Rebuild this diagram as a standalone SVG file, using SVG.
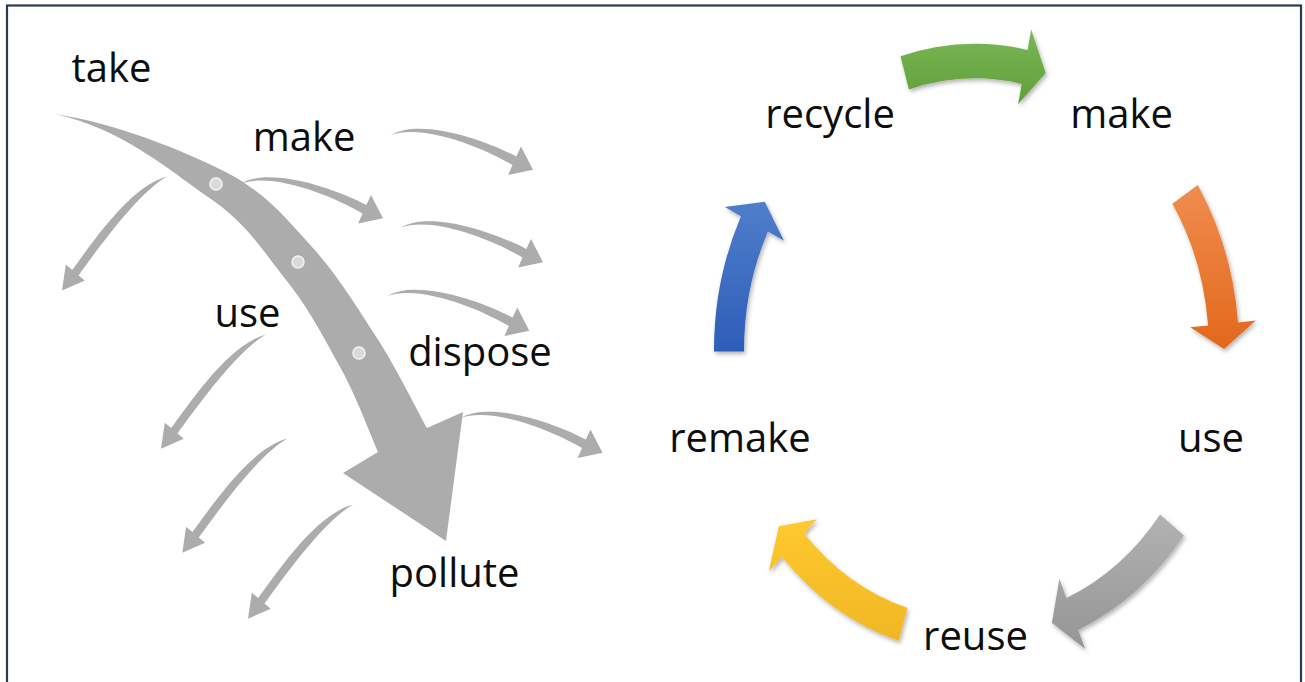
<svg xmlns="http://www.w3.org/2000/svg" xmlns:xlink="http://www.w3.org/1999/xlink" width="1305" height="682" viewBox="0 0 1305 682">
<style>
  .lbl { font-family: "Open Sans", "Liberation Sans", sans-serif; font-size: 40px; fill: #0d0d0d; text-anchor: middle; }
  .g { fill: #acacac; }
  .dot { fill: #dadada; stroke: #f4f4f4; stroke-width: 1.5; }
  .cyc { filter: url(#shadow); }
</style>
<defs>
  <path id="rarrow" d="M0,0 C30,-18 95,5 125.8,21.2 L130.5,11.2 L142.5,34.5 L117.6,39.8 L122,29.8 C93,12.5 32,-12 0,0 Z"/>
  <path id="larrow" d="M0,0 C-38,10 -76.8,69.7 -94.8,93.5 L-101.2,88.2 L-105,114.2 L-82.2,104.2 L-88.5,99 C-70.7,74.8 -30,17 0,0 Z"/>
  <linearGradient id="gGreen" x1="0" y1="0" x2="0" y2="1"><stop offset="0" stop-color="#7bb757"/><stop offset="1" stop-color="#5f9f39"/></linearGradient>
  <linearGradient id="gOrange" x1="0" y1="0" x2="0" y2="1"><stop offset="0" stop-color="#f08c4e"/><stop offset="1" stop-color="#e2681c"/></linearGradient>
  <linearGradient id="gGray" x1="0" y1="0" x2="0" y2="1"><stop offset="0" stop-color="#b2b2b2"/><stop offset="1" stop-color="#959595"/></linearGradient>
  <linearGradient id="gYellow" x1="0" y1="0" x2="0" y2="1"><stop offset="0" stop-color="#ffc92e"/><stop offset="1" stop-color="#efb726"/></linearGradient>
  <linearGradient id="gBlue" x1="0" y1="0" x2="0" y2="1"><stop offset="0" stop-color="#4f7ecb"/><stop offset="1" stop-color="#2d5db8"/></linearGradient>
  <filter id="shadow" x="-20%" y="-20%" width="140%" height="140%">
    <feDropShadow dx="1.5" dy="2.5" stdDeviation="2" flood-color="#000" flood-opacity="0.3"/>
  </filter>
</defs>
<rect x="0" y="0" width="1305" height="682" fill="#ffffff"/>
<rect id="frame" x="7" y="5.5" width="1294" height="700" fill="none" stroke="#2b3a4f" stroke-width="2.2"/>

<g id="connectors">
  <g id="linear-flow">
    <path id="big-arrow" class="g" d="M55,114 C115,123 182,150 225.6,171.9 C268,194 287.5,220.5 313.6,248.8 C339.5,277.5 360,312.5 379.9,342.4 C398.5,372.5 419,413.8 427,428 L463,412 L446,541 L343,473 L378,452 C371.5,437.2 355,392.8 338.1,363.6 C322,333.8 305,302.5 282.4,275.2 C260,247 245,221.5 206.4,196.1 C168.5,169 120,128 55,114 Z"/>
    <circle class="dot" cx="216" cy="184" r="6"/>
    <circle class="dot" cx="298" cy="262" r="6"/>
    <circle class="dot" cx="359" cy="353" r="6"/>
    <use xlink:href="#rarrow" class="g" transform="translate(390.5,135.2)"/>
    <use xlink:href="#rarrow" class="g" transform="translate(240.5,183.8)"/>
    <use xlink:href="#rarrow" class="g" transform="translate(400.5,227.7)"/>
    <use xlink:href="#rarrow" class="g" transform="translate(386.8,296.3)"/>
    <use xlink:href="#rarrow" class="g" transform="translate(460,418.2)"/>
    <use xlink:href="#larrow" class="g" transform="translate(167,176.4)"/>
    <use xlink:href="#larrow" class="g" transform="translate(266,334.5)"/>
    <use xlink:href="#larrow" class="g" transform="translate(287.3,438.5)"/>
    <use xlink:href="#larrow" class="g" transform="translate(353,504.5)"/>
  </g>
  <g id="cycle-arrows">
    <path id="arrow-recycle-make" class="cyc" fill="url(#gGreen)" d="M900.5,56.2 A264,305.2 0 0 1 1027.6,49.9 L1031.2,29.6 L1045.7,73 L1018.1,104.3 L1021.7,83.9 A234,270.5 0 0 0 908.9,89.5 Z"/>
    <path id="arrow-make-use" class="cyc" fill="url(#gOrange)" d="M1197.7,185.1 A264,305.2 0 0 1 1238,322.4 L1255.9,320.6 L1224,349 L1190.2,327.3 L1208.1,325.4 A234,270.5 0 0 0 1172.4,203.7 Z"/>
    <path id="arrow-use-reuse" class="cyc" fill="url(#gGray)" d="M1183.9,535.6 A264,305.2 0 0 1 1078.2,629.9 L1085.2,649.1 L1051.9,622.8 L1059.4,578.8 L1066.4,598 A234,270.5 0 0 0 1160.1,514.4 Z"/>
    <path id="arrow-reuse-remake" class="cyc" fill="url(#gYellow)" d="M898.7,641.1 A264,305.2 0 0 1 781.9,557.1 L768.8,571.3 L778.8,526.2 L817,519.3 L803.9,533.5 A234,270.5 0 0 0 907.4,608 Z"/>
    <path id="arrow-remake-recycle" class="cyc" fill="url(#gBlue)" transform="translate(3,1.5)" d="M711,350.1 A264,305.2 0 0 1 737.9,214.8 L721.8,205.6 L761.8,200.3 L781,239.2 L764.9,230 A234,270.5 0 0 0 741,349.9 Z"/>
  </g>
</g>

<g id="node-take"><text class="lbl" x="111.5" y="82">take</text></g>
<g id="node-make-linear"><text class="lbl" x="304" y="151">make</text></g>
<g id="node-use-linear"><text class="lbl" x="247.5" y="327">use</text></g>
<g id="node-dispose"><text class="lbl" x="480" y="366">dispose</text></g>
<g id="node-pollute"><text class="lbl" x="454.5" y="587">pollute</text></g>
<g id="node-recycle"><text class="lbl" x="830" y="128">recycle</text></g>
<g id="node-make-cycle"><text class="lbl" x="1121.5" y="128">make</text></g>
<g id="node-use-cycle"><text class="lbl" x="1211" y="452">use</text></g>
<g id="node-reuse"><text class="lbl" x="975.5" y="650">reuse</text></g>
<g id="node-remake"><text class="lbl" x="740" y="452">remake</text></g>
</svg>
